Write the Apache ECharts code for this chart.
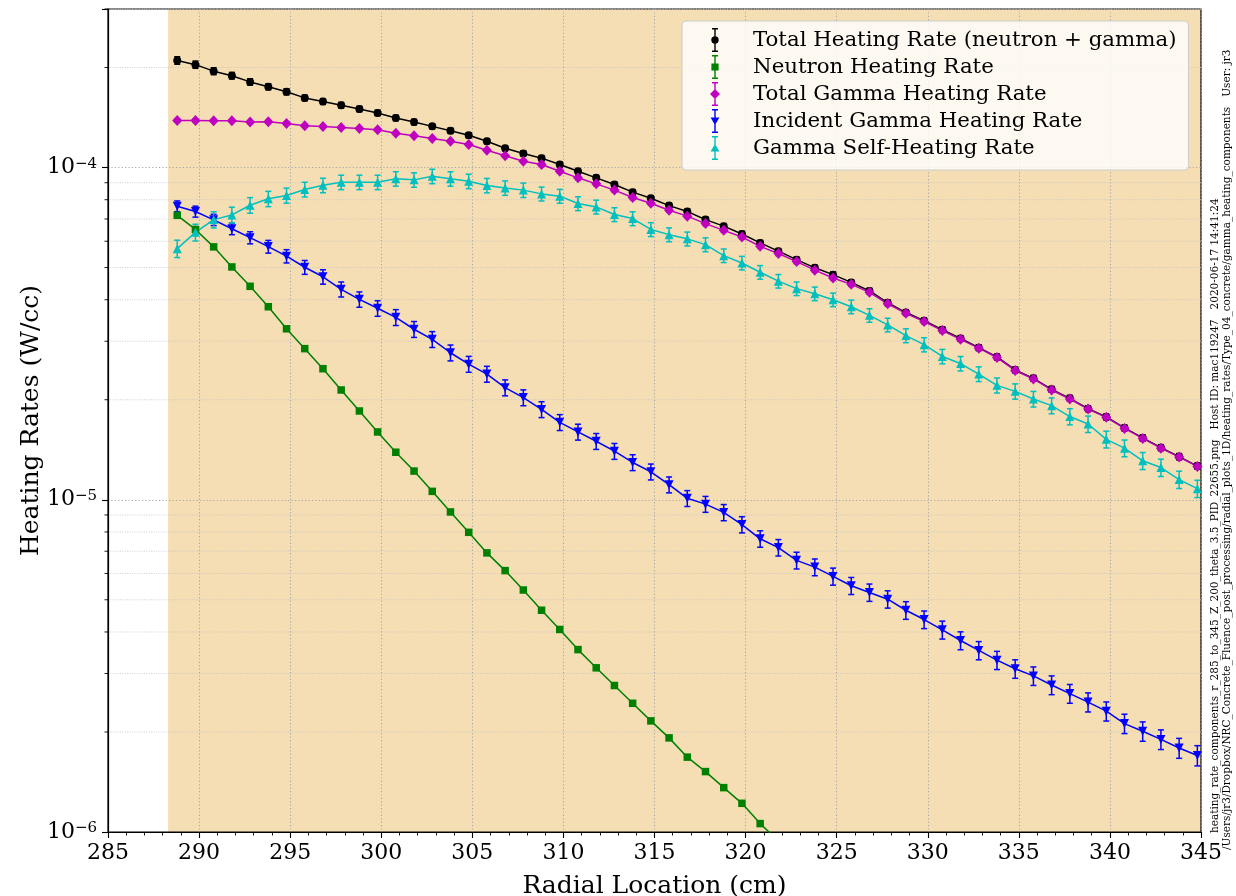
<!DOCTYPE html>
<html>
<head>
<meta charset="utf-8">
<script src="https://cdn.jsdelivr.net/npm/echarts@6/dist/echarts.min.js"></script>
<style>
  html, body { margin: 0; padding: 0; background: #ffffff; }
  #chart { width: 1236px; height: 896px; }
</style>
</head>
<body>
<div id="chart"></div>
<script>
// Radial bin centres (cm)
const radius = [
  288.8, 289.8, 290.8, 291.8, 292.8, 293.8, 294.8, 295.8, 296.8, 297.8,
  298.8, 299.8, 300.8, 301.8, 302.8, 303.8, 304.8, 305.8, 306.8, 307.8,
  308.8, 309.8, 310.8, 311.8, 312.8, 313.8, 314.8, 315.8, 316.8, 317.8,
  318.8, 319.8, 320.8, 321.8, 322.8, 323.8, 324.8, 325.8, 326.8, 327.8,
  328.8, 329.8, 330.8, 331.8, 332.8, 333.8, 334.8, 335.8, 336.8, 337.8,
  338.8, 339.8, 340.8, 341.8, 342.8, 343.8, 344.8
];

// Heating rates (W/cc)
const totalRate = [
  2.10e-4, 2.04e-4, 1.95e-4, 1.89e-4, 1.81e-4, 1.75e-4, 1.69e-4, 1.62e-4, 1.58e-4, 1.54e-4,
  1.50e-4, 1.46e-4, 1.41e-4, 1.37e-4, 1.33e-4, 1.29e-4, 1.25e-4, 1.20e-4, 1.143e-4, 1.102e-4,
  1.067e-4, 1.021e-4, 9.75e-5, 9.31e-5, 8.89e-5, 8.43e-5, 8.08e-5, 7.68e-5, 7.37e-5, 6.97e-5,
  6.66e-5, 6.31e-5, 5.93e-5, 5.60e-5, 5.28e-5, 4.99e-5, 4.76e-5, 4.51e-5, 4.25e-5, 3.92e-5,
  3.66e-5, 3.46e-5, 3.25e-5, 3.06e-5, 2.87e-5, 2.69e-5, 2.46e-5, 2.32e-5, 2.15e-5, 2.02e-5,
  1.88e-5, 1.775e-5, 1.645e-5, 1.535e-5, 1.435e-5, 1.348e-5, 1.263e-5
];
const neutronRate = [
  7.18e-5, 6.51e-5, 5.77e-5, 5.02e-5, 4.39e-5, 3.81e-5, 3.27e-5, 2.85e-5, 2.48e-5, 2.14e-5,
  1.85e-5, 1.60e-5, 1.39e-5, 1.22e-5, 1.06e-5, 9.19e-6, 7.98e-6, 6.92e-6, 6.12e-6, 5.35e-6,
  4.65e-6, 4.07e-6, 3.54e-6, 3.12e-6, 2.76e-6, 2.44e-6, 2.16e-6, 1.92e-6, 1.68e-6, 1.52e-6,
  1.36e-6, 1.22e-6, 1.06e-6, 9.4e-7, 8.3e-7
];
const gammaRate = [
  1.386e-4, 1.386e-4, 1.383e-4, 1.383e-4, 1.370e-4, 1.373e-4, 1.357e-4, 1.335e-4, 1.329e-4, 1.320e-4,
  1.311e-4, 1.299e-4, 1.268e-4, 1.246e-4, 1.223e-4, 1.200e-4, 1.173e-4, 1.127e-4, 1.085e-4, 1.045e-4,
  1.021e-4, 9.75e-5, 9.31e-5, 8.93e-5, 8.55e-5, 8.12e-5, 7.81e-5, 7.44e-5, 7.14e-5, 6.78e-5,
  6.47e-5, 6.18e-5, 5.79e-5, 5.51e-5, 5.21e-5, 4.91e-5, 4.65e-5, 4.45e-5, 4.21e-5, 3.89e-5,
  3.64e-5, 3.44e-5, 3.23e-5, 3.04e-5, 2.86e-5, 2.68e-5, 2.45e-5, 2.31e-5, 2.14e-5, 2.01e-5,
  1.875e-5, 1.77e-5, 1.64e-5, 1.53e-5, 1.43e-5, 1.344e-5, 1.26e-5
];
const incidentRate = [
  7.65e-5, 7.37e-5, 6.96e-5, 6.54e-5, 6.15e-5, 5.78e-5, 5.41e-5, 5.01e-5, 4.69e-5, 4.30e-5,
  4.01e-5, 3.77e-5, 3.54e-5, 3.26e-5, 3.04e-5, 2.77e-5, 2.56e-5, 2.39e-5, 2.175e-5, 2.03e-5,
  1.87e-5, 1.71e-5, 1.60e-5, 1.50e-5, 1.40e-5, 1.295e-5, 1.214e-5, 1.11e-5, 1.01e-5, 9.70e-6,
  9.16e-6, 8.42e-6, 7.63e-6, 7.18e-6, 6.57e-6, 6.27e-6, 5.88e-6, 5.51e-6, 5.26e-6, 5.02e-6,
  4.65e-6, 4.36e-6, 4.06e-6, 3.77e-6, 3.52e-6, 3.29e-6, 3.10e-6, 2.95e-6, 2.77e-6, 2.61e-6,
  2.46e-6, 2.31e-6, 2.12e-6, 2.01e-6, 1.90e-6, 1.79e-6, 1.70e-6
];
const selfRate = [
  5.70e-5, 6.38e-5, 6.97e-5, 7.20e-5, 7.70e-5, 8.05e-5, 8.24e-5, 8.59e-5, 8.84e-5, 9.03e-5,
  9.03e-5, 9.03e-5, 9.25e-5, 9.18e-5, 9.41e-5, 9.25e-5, 9.09e-5, 8.83e-5, 8.68e-5, 8.55e-5,
  8.33e-5, 8.20e-5, 7.79e-5, 7.61e-5, 7.22e-5, 7.02e-5, 6.51e-5, 6.28e-5, 6.10e-5, 5.86e-5,
  5.43e-5, 5.16e-5, 4.84e-5, 4.55e-5, 4.32e-5, 4.17e-5, 4.00e-5, 3.81e-5, 3.59e-5, 3.36e-5,
  3.12e-5, 2.93e-5, 2.70e-5, 2.57e-5, 2.39e-5, 2.21e-5, 2.12e-5, 2.01e-5, 1.92e-5, 1.78e-5,
  1.69e-5, 1.52e-5, 1.43e-5, 1.31e-5, 1.25e-5, 1.15e-5, 1.08e-5
];

// Relative 1-sigma uncertainties
const totalErr = [
  0.026, 0.025, 0.024, 0.023, 0.022, 0.021, 0.021, 0.020, 0.020, 0.020,
  0.019, 0.019, 0.019, 0.019, 0.018, 0.018, 0.018, 0.018, 0.018, 0.018,
  0.018, 0.018, 0.018, 0.018, 0.018, 0.018, 0.018, 0.018, 0.018, 0.018,
  0.018, 0.018, 0.018, 0.018, 0.018, 0.018, 0.018, 0.018, 0.019, 0.019,
  0.019, 0.019, 0.019, 0.019, 0.020, 0.020, 0.020, 0.020, 0.020, 0.020,
  0.020, 0.021, 0.021, 0.021, 0.021, 0.022, 0.022
];
const neutronErr = [
  0.006, 0.006, 0.006, 0.006, 0.006, 0.006, 0.006, 0.006, 0.006, 0.006,
  0.006, 0.006, 0.006, 0.006, 0.006, 0.006, 0.006, 0.006, 0.006, 0.006,
  0.006, 0.006, 0.006, 0.006, 0.006, 0.006, 0.006, 0.006, 0.006, 0.006,
  0.006, 0.006, 0.006, 0.006, 0.006
];
const gammaErr = [
  0.010, 0.010, 0.010, 0.010, 0.010, 0.010, 0.010, 0.010, 0.010, 0.010,
  0.010, 0.010, 0.010, 0.010, 0.010, 0.010, 0.010, 0.010, 0.010, 0.010,
  0.014, 0.014, 0.014, 0.014, 0.014, 0.014, 0.014, 0.014, 0.014, 0.014,
  0.014, 0.014, 0.014, 0.014, 0.014, 0.014, 0.014, 0.014, 0.014, 0.014,
  0.014, 0.014, 0.014, 0.014, 0.014, 0.014, 0.014, 0.014, 0.014, 0.014,
  0.014, 0.014, 0.014, 0.014, 0.014, 0.014, 0.014
];
const incidentErr = [
  0.037, 0.038, 0.039, 0.040, 0.042, 0.044, 0.046, 0.048, 0.050, 0.052,
  0.053, 0.054, 0.055, 0.055, 0.055, 0.055, 0.055, 0.055, 0.055, 0.055,
  0.055, 0.055, 0.055, 0.055, 0.055, 0.055, 0.055, 0.055, 0.055, 0.055,
  0.056, 0.056, 0.057, 0.057, 0.058, 0.058, 0.059, 0.059, 0.060, 0.060,
  0.061, 0.061, 0.062, 0.062, 0.063, 0.063, 0.064, 0.064, 0.065, 0.065,
  0.066, 0.066, 0.067, 0.067, 0.068, 0.069, 0.070
];
const selfErr = [
  0.060, 0.058, 0.056, 0.055, 0.054, 0.053, 0.052, 0.051, 0.050, 0.050,
  0.050, 0.050, 0.050, 0.050, 0.050, 0.050, 0.050, 0.050, 0.050, 0.050,
  0.048, 0.048, 0.048, 0.048, 0.048, 0.048, 0.048, 0.048, 0.048, 0.048,
  0.047, 0.047, 0.047, 0.047, 0.047, 0.047, 0.047, 0.047, 0.047, 0.047,
  0.048, 0.049, 0.050, 0.050, 0.051, 0.052, 0.053, 0.054, 0.055, 0.056,
  0.057, 0.058, 0.058, 0.059, 0.060, 0.060, 0.060
];

// Axis ranges and tick positions
const xMin = 285, xMax = 345, xStep = 5;
const yMin = 1e-6, yMax = 3e-4;
const yMinorTicks = [
  2e-6, 3e-6, 4e-6, 5e-6, 6e-6, 7e-6, 8e-6, 9e-6,
  2e-5, 3e-5, 4e-5, 5e-5, 6e-5, 7e-5, 8e-5, 9e-5,
  2e-4, 3e-4
];
// Start of the concrete region (cm)
const concreteStart = 288.3;

const legendNames = [
  'Total Heating Rate (neutron + gamma)',
  'Neutron Heating Rate',
  'Total Gamma Heating Rate',
  'Incident Gamma Heating Rate',
  'Gamma Self-Heating Rate'
];
const stampLine1 = 'heating_rate_components_r_285_to_345_Z_200_theta_3.5_PID_22655.png   Host ID: mac119247   2020-06-17 14:41:24';
const stampLine2 = '/Users/jr3/Dropbox/NRC_Concrete_Fluence_post_processing/radial_plots_1D/heating_rates/Type_04_concrete/gamma_heating_components   User: jr3';

const FONT = "'DejaVu Serif', serif";
const COLORS = ['#000000', '#008000', '#bf00bf', '#0000ff', '#00bfbf'];

// Legend glyphs in a 66 x 24 box: two zero-area corner anchors fix the box,
// then an error bar with caps and the series marker centred at (33, 12).
const BAR = 'M0 0L0.01 0L0 0.01ZM66 24L65.99 24L66 23.99Z' +
            'M30 0H36V1.4H30ZM32.3 0H33.7V24H32.3ZM30 22.6H36V24H30Z';
const ICONS = [
  'path://' + BAR + 'M29.3 12A3.7 3.7 0 1 1 36.7 12A3.7 3.7 0 1 1 29.3 12Z',
  'path://' + BAR + 'M29.4 8.4H36.6V15.6H29.4Z',
  'path://' + BAR + 'M33 7L38 12L33 17L28 12Z',
  'path://' + BAR + 'M28.6 8.4H37.4L33 16Z',
  'path://' + BAR + 'M33 8L37.4 15.6H28.6Z'
];

function points(vals) {
  return vals.map((v, i) => [radius[i], v]);
}
function bars(vals, err) {
  return vals.map((v, i) => [radius[i], v * (1 - err[i]), v * (1 + err[i])]);
}

function renderErrorBar(params, api) {
  const x = api.value(0);
  const hi = api.coord([x, api.value(2)]);
  const lo = api.coord([x, api.value(1)]);
  const c = api.visual('color');
  const cap = 3;
  const seg = (x1, y1, x2, y2) => ({
    type: 'line',
    shape: { x1, y1, x2, y2 },
    style: { stroke: c, lineWidth: 1.5 }
  });
  return {
    type: 'group',
    children: [
      seg(hi[0], hi[1], lo[0], lo[1]),
      seg(hi[0] - cap, hi[1], hi[0] + cap, hi[1]),
      seg(lo[0] - cap, lo[1], lo[0] + cap, lo[1])
    ]
  };
}

function errorSeries(idx, vals, err) {
  return {
    type: 'custom',
    name: legendNames[idx],
    data: bars(vals, err),
    encode: { x: 0, y: [1, 2] },
    renderItem: renderErrorBar,
    itemStyle: { color: COLORS[idx] },
    clip: true,
    silent: true,
    z: 2
  };
}

function lineSeries(idx, vals, symbol, size, rotate) {
  return {
    type: 'line',
    id: 'rate-' + idx,
    data: points(vals),
    symbol: symbol,
    symbolSize: size,
    symbolRotate: rotate || 0,
    showSymbol: true,
    showAllSymbol: true,
    lineStyle: { width: 1.5, color: COLORS[idx] },
    itemStyle: { color: COLORS[idx] },
    clip: true,
    silent: true,
    z: 2
  };
}

const chart = echarts.init(document.getElementById('chart'), null, { renderer: 'canvas' });

const option = {
  animation: false,
  backgroundColor: '#ffffff',
  grid: {
    left: 108, right: 35, top: 9, bottom: 64,
    show: true,
    borderColor: '#000000',
    borderWidth: 1.2,
    backgroundColor: 'transparent',
    containLabel: false,
    outerBoundsMode: 'none'
  },
  xAxis: {
    type: 'value',
    min: xMin, max: xMax, interval: xStep,
    name: 'Radial Location (cm)',
    nameLocation: 'middle',
    nameGap: 42,
    nameTextStyle: { fontFamily: FONT, fontSize: 25, color: '#000' },
    axisLine: { show: true, lineStyle: { color: '#000', width: 1.2 } },
    axisTick: { show: true, inside: false, length: 6, lineStyle: { color: '#000', width: 1.1 } },
    minorTick: { show: true, splitNumber: 5, length: 3.5, lineStyle: { color: '#000', width: 0.9 } },
    axisLabel: { fontFamily: FONT, fontSize: 22, color: '#000', margin: 10 },
    splitLine: { show: true, lineStyle: { color: '#a8a8a8', width: 1.1, type: [1.2, 2.2] } }
  },
  yAxis: {
    type: 'log',
    logBase: 10,
    min: yMin, max: yMax,
    name: 'Heating Rates (W/cc)',
    nameLocation: 'middle',
    nameGap: 64,
    nameMoveOverlap: false,
    nameTextStyle: { fontFamily: FONT, fontSize: 25, color: '#000' },
    axisLine: { show: true, lineStyle: { color: '#000', width: 1.2 } },
    axisTick: { show: true, inside: false, length: 6, lineStyle: { color: '#000', width: 1.1 } },
    axisLabel: {
      margin: 11,
      formatter: function (v) {
        const lg = Math.log10(v);
        const e = Math.round(lg);
        if (Math.abs(lg - e) > 1e-6) return '';
        return '{b|10}{e|\u2212' + Math.abs(e) + '}';
      },
      rich: {
        b: { fontFamily: FONT, fontSize: 22, color: '#000', lineHeight: 22, verticalAlign: 'bottom' },
        e: { fontFamily: FONT, fontSize: 15, color: '#000', lineHeight: 10, padding: [0, 0, 16, 0], verticalAlign: 'top' }
      }
    },
    splitLine: { show: true, lineStyle: { color: '#a8a8a8', width: 1.1, type: [1.2, 2.2] } }
  },
  legend: {
    orient: 'vertical',
    left: 682, top: 21,
    padding: [7, 12, 10, 0],
    itemWidth: 66, itemHeight: 24, itemGap: 3,
    backgroundColor: 'rgba(255,255,255,0.8)',
    borderColor: '#cccccc', borderWidth: 1, borderRadius: 4,
    selectedMode: false,
    textStyle: { fontFamily: FONT, fontSize: 21.3, color: '#000', lineHeight: 24 },
    data: legendNames.map((n, i) => ({ name: n, icon: ICONS[i] }))
  },
  graphic: [
    {
      type: 'text', x: 1215, y: 833, rotation: Math.PI / 2, silent: true,
      style: { text: stampLine1, fontFamily: FONT, fontSize: 10.5, fill: '#000', align: 'left', verticalAlign: 'middle' }
    },
    {
      type: 'text', x: 1227, y: 850, rotation: Math.PI / 2, silent: true,
      style: { text: stampLine2, fontFamily: FONT, fontSize: 10.5, fill: '#000', align: 'left', verticalAlign: 'middle' }
    }
  ],
  series: [
    // concrete region shading
    {
      type: 'custom',
      name: 'concrete',
      data: [[concreteStart, yMin, xMax, yMax]],
      encode: { x: [0, 2], y: [1, 3] },
      renderItem: function (params, api) {
        const a = api.coord([api.value(0), api.value(3)]);
        const b = api.coord([api.value(2), api.value(1)]);
        return {
          type: 'rect',
          shape: { x: a[0], y: a[1], width: b[0] - a[0], height: b[1] - a[1] },
          style: { fill: '#f5deb3' }
        };
      },
      silent: true,
      clip: true,
      z: -1
    },
    // minor log gridlines and ticks
    {
      type: 'custom',
      name: 'minor-grid',
      data: yMinorTicks.map(v => [xMin, v]),
      encode: { x: 0, y: 1 },
      renderItem: function (params, api) {
        const a = api.coord([xMin, api.value(1)]);
        const b = api.coord([xMax, api.value(1)]);
        return {
          type: 'group',
          children: [
            { type: 'line', shape: { x1: a[0], y1: a[1], x2: b[0], y2: b[1] },
              style: { stroke: '#c4c4c4', lineWidth: 0.8, lineDash: [1, 1.4] } },
            { type: 'line', shape: { x1: a[0] - 3.5, y1: a[1], x2: a[0], y2: a[1] },
              style: { stroke: '#000', lineWidth: 0.9 } }
          ]
        };
      },
      silent: true,
      clip: false,
      z: 0
    },
    errorSeries(0, totalRate, totalErr),
    lineSeries(0, totalRate, 'circle', 8),
    errorSeries(1, neutronRate, neutronErr),
    lineSeries(1, neutronRate, 'rect', 7.5),
    errorSeries(2, gammaRate, gammaErr),
    lineSeries(2, gammaRate, 'diamond', [10, 11]),
    errorSeries(3, incidentRate, incidentErr),
    lineSeries(3, incidentRate, 'triangle', 9, 180),
    errorSeries(4, selfRate, selfErr),
    lineSeries(4, selfRate, 'triangle', 9)
  ]
};

chart.setOption(option);
</script>
</body>
</html>
